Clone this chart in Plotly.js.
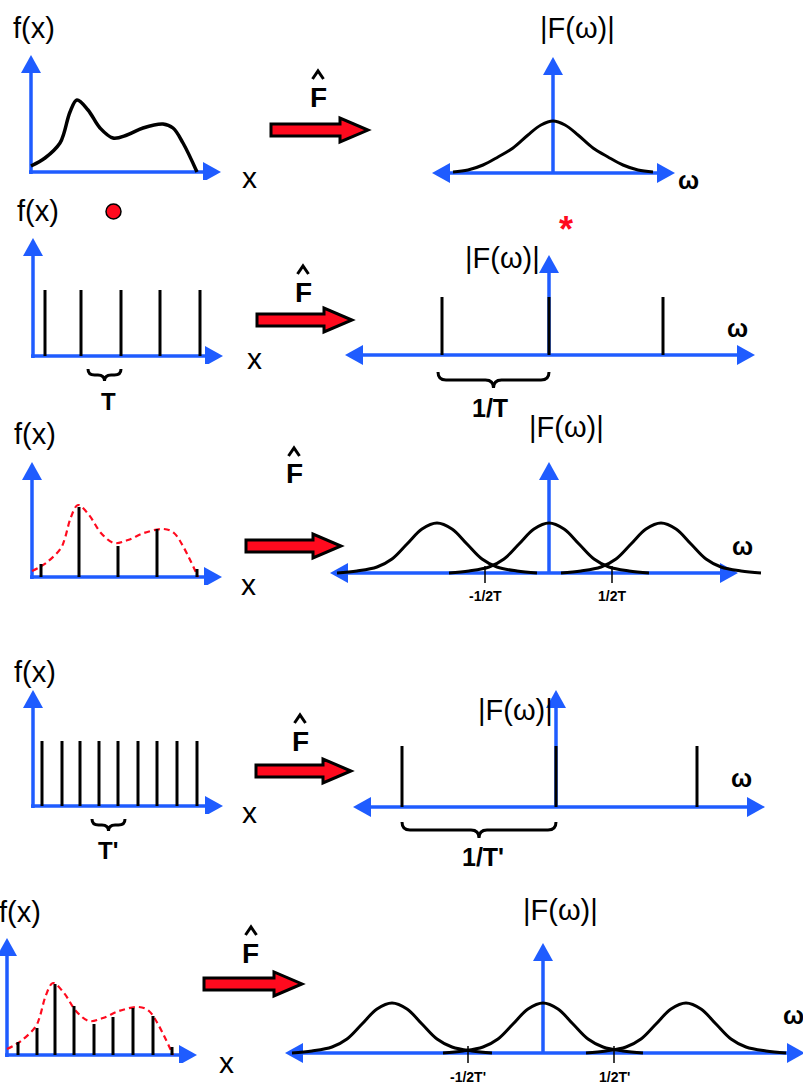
<!DOCTYPE html>
<html><head><meta charset="utf-8">
<script src="https://cdn.plot.ly/plotly-3.0.1.min.js"></script>
<style>html,body{margin:0;padding:0;background:#fff}#plot{width:803px;height:1087px}</style>
</head><body><div id="plot"></div>
<script>
// ---------------- data (panel units: 1 unit = one axis scale step) ----------------
// continuous signal f(x)
const fCurveX = [0, 0.14, 0.29, 0.33, 0.39, 0.46, 0.57, 0.69, 0.82, 0.96, 1.12, 1.32, 1.42, 1.52, 1.66];
const fCurveY = [0.06, 0.14, 0.29, 0.39, 0.60, 0.72, 0.62, 0.44, 0.34, 0.37, 0.44, 0.48, 0.44, 0.29, 0];
// f(x) sampled with spacing T
const sampT_X = [0.09, 0.47, 0.86, 1.25, 1.65];
const sampT_Y = [0.13, 0.70, 0.31, 0.48, 0.08];
// f(x) sampled with spacing T'
const sampTp_X = [0.11, 0.30, 0.48, 0.67, 0.87, 1.06, 1.26, 1.46, 1.65];
const sampTp_Y = [0.13, 0.27, 0.71, 0.49, 0.31, 0.38, 0.47, 0.39, 0.08];
// impulse trains
const combT_X = [0.12, 0.48, 0.88, 1.27, 1.67];
const combT_H = 0.66;
const combTp_X = [0.09, 0.29, 0.47, 0.66, 0.85, 1.05, 1.24, 1.44, 1.64];
const combTp_H = 0.65;
// spectrum |F(w)| of the signal
const specX = [-1.0, -0.85, -0.7, -0.55, -0.4, -0.25, -0.12, 0, 0.12, 0.25, 0.4, 0.55, 0.7, 0.85, 1.0];
const specY = [0.01, 0.03, 0.08, 0.16, 0.25, 0.38, 0.48, 0.52, 0.48, 0.38, 0.25, 0.16, 0.08, 0.03, 0.01];
// one replica of the spectrum of a sampled signal
const repShapeX = [-1.0, -0.8, -0.6, -0.45, -0.3, -0.15, 0, 0.15, 0.3, 0.45, 0.6, 0.8, 1.0];
const repShapeY = [0.0, 0.02, 0.06, 0.14, 0.29, 0.44, 0.50, 0.44, 0.29, 0.14, 0.06, 0.02, 0.0];
// spectra of impulse trains
const combSpecT_X = [-1.07, 0, 1.14];
const combSpecT_H = 0.58;
const combSpecTp_X = [-1.54, 0, 1.41];
const combSpecTp_H = 0.61;
// replica centres of sampled spectra
const repT = [-1.12, 0, 1.12];
const repTp = [-1.51, 0, 1.43];
// tick positions / labels
const tickT_X = [-0.64, 0.63];
const tickT_L = ['-1/2T', '1/2T'];
const tickTp_X = [-0.75, 0.71];
const tickTp_L = ["-1/2T'", "1/2T'"];

// ---------------- layout helpers ----------------
const W = 803, H = 1087, S = 100;
const FONT = '"Liberation Sans", Arial, sans-serif';
const BLUE = '#1f5cff', RED = '#ff0a1e';
const traces = [], shapes = [], ann = [];
const layout = {width: W, height: H, margin: {l: 0, r: 0, t: 0, b: 0},
  paper_bgcolor: '#ffffff', plot_bgcolor: 'rgba(0,0,0,0)', showlegend: false};
let n = 0;
function addPanel(ox, oy, x0, x1, y0, y1) {
  n++; const k = n === 1 ? '' : String(n);
  x0 = Math.max(0, x0); x1 = Math.min(W, x1);
  layout['xaxis' + k] = {domain: [x0 / W, x1 / W], range: [(x0 - ox) / S, (x1 - ox) / S], visible: false, fixedrange: true, anchor: 'y' + k};
  layout['yaxis' + k] = {domain: [1 - y1 / H, 1 - y0 / H], range: [(oy - y1) / S, (oy - y0) / S], visible: false, fixedrange: true, anchor: 'x' + k};
  return {xa: 'x' + k, ya: 'y' + k};
}
const HL = 0.18, HW = 0.10, AW = 3.5;
function head(p, tx, ty, dir) {
  let path;
  if (dir === 'up') path = `M${tx},${ty} L${tx - HW},${ty - HL} L${tx + HW},${ty - HL} Z`;
  else if (dir === 'right') path = `M${tx},${ty} L${tx - HL},${ty + HW} L${tx - HL},${ty - HW} Z`;
  else path = `M${tx},${ty} L${tx + HL},${ty + HW} L${tx + HL},${ty - HW} Z`;
  shapes.push({type: 'path', xref: p.xa, yref: p.ya, path, fillcolor: BLUE, line: {width: 0}, layer: 'below'});
}
function seg(p, x0, y0, x1, y1) {
  shapes.push({type: 'line', xref: p.xa, yref: p.ya, x0, y0, x1, y1, line: {color: BLUE, width: AW}, layer: 'below'});
}
function line(p, x, y, opts) {
  traces.push(Object.assign({type: 'scatter', mode: 'lines', x, y, xaxis: p.xa, yaxis: p.ya, hoverinfo: 'skip'}, opts));
}
function stems(p, xs, hs, w) {
  const x = [], y = [];
  xs.forEach((v, i) => { x.push(v, v, null); y.push(0, Array.isArray(hs) ? hs[i] : hs, null); });
  line(p, x, y, {line: {color: '#000', width: w || 3}});
}
function P(x, y) { return `${(x / W).toFixed(5)},${(1 - y / H).toFixed(5)}`; }
function txt(s, x, y, size, o) {
  o = o || {};
  ann.push({text: s, xref: 'paper', yref: 'paper', x: x / W, y: 1 - y / H, xanchor: 'center', yanchor: 'middle',
    showarrow: false, font: {family: o.family || FONT, size, color: o.color || '#000', weight: o.bold ? 700 : 400}});
}
function redArrow(x0, x1, cy) {
  const xh = x1 - 28;
  shapes.push({type: 'path', xref: 'paper', yref: 'paper',
    path: `M${P(x0, cy - 6)} L${P(xh, cy - 6)} L${P(xh, cy - 12)} L${P(x1, cy)} L${P(xh, cy + 12)} L${P(xh, cy + 6)} L${P(x0, cy + 6)} Z`,
    fillcolor: RED, line: {color: '#000', width: 3}});
}
function caret(cx, cy) {
  shapes.push({type: 'path', xref: 'paper', yref: 'paper',
    path: `M${P(cx - 5.5, cy + 4)} L${P(cx, cy - 4)} L${P(cx + 5.5, cy + 4)}`, line: {color: '#000', width: 3}});
}
function brace(x0, x1, yt, h) {
  const xm = (x0 + x1) / 2, r = Math.min(8, (x1 - x0) / 5);
  shapes.push({type: 'path', xref: 'paper', yref: 'paper',
    path: `M${P(x0, yt)} Q${P(x0, yt + h)} ${P(x0 + r, yt + h)} L${P(xm - r, yt + h)} Q${P(xm, yt + h)} ${P(xm, yt + 2 * h)} Q${P(xm, yt + h)} ${P(xm + r, yt + h)} L${P(x1 - r, yt + h)} Q${P(x1, yt + h)} ${P(x1, yt)}`,
    line: {color: '#000', width: 3}});
}
function leftPanel(ox, oy, xt, yt) {
  const p = addPanel(ox, oy, ox - 15, ox + xt * S + 5, oy - yt * S - 5, oy + 8);
  seg(p, 0, -0.02, 0, yt - HL + 0.01); head(p, 0, yt, 'up');
  seg(p, -0.02, 0, xt - HL + 0.01, 0); head(p, xt, 0, 'right');
  return p;
}
function rightPanel(ox, oy, xl, xr, yt, extra) {
  const p = addPanel(ox, oy, ox + xl * S - 10, ox + xr * S + (extra || 10), oy - yt * S - 5, oy + 12);
  seg(p, xl + HL - 0.01, 0, xr - HL + 0.01, 0); head(p, xl, 0, 'left'); head(p, xr, 0, 'right');
  seg(p, 0, 0, 0, yt - HL + 0.01); head(p, 0, yt, 'up');
  return p;
}
const SPL = {shape: 'spline', smoothing: 1};

// ---------------- row 1 ----------------
const L1 = leftPanel(31, 172, 1.9, 1.17);
line(L1, fCurveX, fCurveY, {line: Object.assign({color: '#000', width: 3.5}, SPL)});
const R1 = rightPanel(553, 173, -1.21, 1.22, 1.16);
line(R1, specX, specY, {line: Object.assign({color: '#000', width: 3}, SPL)});

// ---------------- row 2 ----------------
const L2 = leftPanel(33, 356, 1.9, 1.18);
stems(L2, combT_X, combT_H);
const R2 = rightPanel(549, 355, -2.04, 2.06, 1.0);
stems(R2, combSpecT_X, combSpecT_H);

// ---------------- row 3 ----------------
const L3 = leftPanel(32, 577, 1.9, 1.15);
line(L3, fCurveX, fCurveY, {line: Object.assign({color: RED, width: 2.2, dash: '6px,4px'}, SPL)});
stems(L3, sampT_X, sampT_Y);
const R3 = rightPanel(549, 573, -2.19, 1.89, 1.11, 35);
repT.forEach(c => line(R3, repShapeX.map(v => v + c), repShapeY, {line: Object.assign({color: '#000', width: 3}, SPL)}));
tickT_X.forEach(t => line(R3, [t, t], [-0.1, 0.07], {line: {color: '#000', width: 1.5}}));

// ---------------- row 4 ----------------
const L4 = leftPanel(33, 806, 1.9, 1.16);
stems(L4, combTp_X, combTp_H);
const R4 = rightPanel(556, 807, -2.03, 2.09, 1.17);
stems(R4, combSpecTp_X, combSpecTp_H);

// ---------------- row 5 ----------------
const L5 = leftPanel(7, 1055, 1.9, 1.17);
line(L5, fCurveX, fCurveY, {line: Object.assign({color: RED, width: 2.2, dash: '6px,4px'}, SPL)});
stems(L5, sampTp_X, sampTp_Y);
const R5 = rightPanel(543, 1053, -2.58, 2.62, 1.1);
repTp.forEach(c => line(R5, repShapeX.map(v => v + c), repShapeY, {line: Object.assign({color: '#000', width: 3}, SPL)}));
tickTp_X.forEach(t => line(R5, [t, t], [-0.1, 0.07], {line: {color: '#000', width: 1.5}}));

// ---------------- decorations ----------------
[[271, 368, 130], [257, 352, 320], [246, 341, 546], [256, 351, 771], [204, 302, 984]].forEach(a => redArrow(a[0], a[1], a[2]));
[[318, 97], [303, 292], [294, 474], [300, 741], [251, 953]].forEach(f => {
  txt('F', f[0], f[1], 28, {bold: true});
  caret(f[0], f[1] - 22);
});
brace(88, 121, 369, 6); brace(438, 549, 372, 8);
brace(92, 125, 819, 6); brace(402, 556, 822, 8);
shapes.push({type: 'circle', xref: 'paper', yref: 'paper', x0: 106 / W, x1: 121 / W, y0: 1 - 219 / H, y1: 1 - 204 / H,
  fillcolor: RED, line: {color: '#000', width: 1.5}});

// labels
[[34, 28], [38, 211], [35, 434], [35, 672], [20, 912]].forEach(q => txt('f(x)', q[0], q[1], 29));
[[249, 178], [254, 358], [248, 584], [249, 812], [226, 1062]].forEach(q => txt('x', q[0], q[1], 30));
[[577, 28], [503, 258], [566, 427], [515, 710], [560, 910]].forEach(q => txt('|F(ω)|', q[0], q[1], 29));
[[688, 180], [737, 328], [742, 546], [741, 778], [793, 1015]].forEach(q => txt('ω', q[0], q[1], 25, {bold: true}));
txt('T', 108, 401, 24, {bold: true});
txt('1/T', 490, 408, 25, {bold: true});
txt("T'", 108, 850, 24, {bold: true});
txt("1/T'", 483, 857, 25, {bold: true});
txt('*', 566, 229, 36, {bold: true, color: RED});
tickT_X.forEach((t, i) => txt(tickT_L[i], 549 + t * S, 596, 14, {bold: true}));
tickTp_X.forEach((t, i) => txt(tickTp_L[i], 543 + t * S, 1077, 14, {bold: true}));

layout.shapes = shapes;
layout.annotations = ann;
Plotly.newPlot('plot', traces, layout, {staticPlot: true, displayModeBar: false});
</script></body></html>
